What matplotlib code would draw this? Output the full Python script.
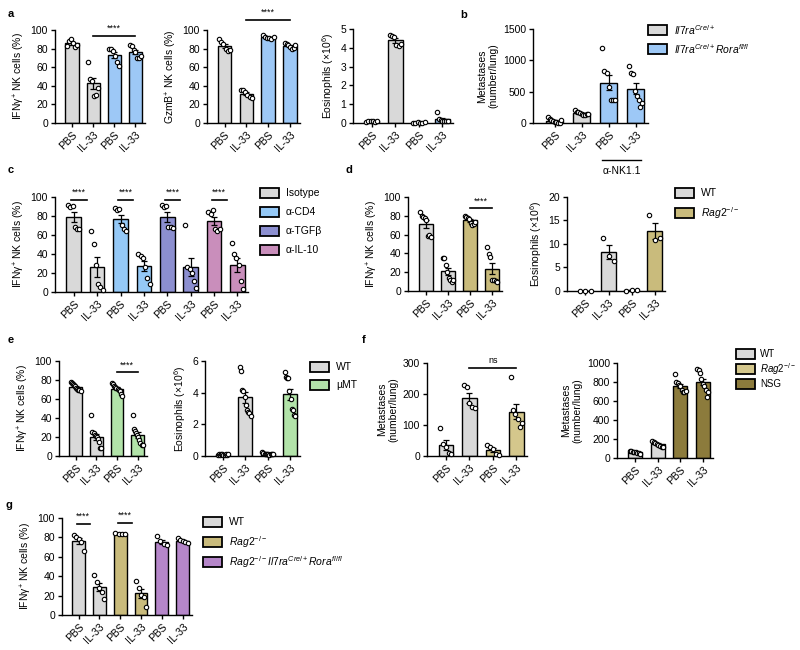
import numpy as np
import matplotlib
matplotlib.use('Agg')
import matplotlib.pyplot as plt
from matplotlib.patches import Rectangle

plt.rcParams['font.family'] = ['Liberation Sans', 'DejaVu Sans']
plt.rcParams['mathtext.fontset'] = 'custom'
plt.rcParams['mathtext.rm'] = 'Liberation Sans'
plt.rcParams['mathtext.it'] = 'Liberation Sans:italic'
plt.rcParams['font.size'] = 7.5

# Data (individual mice)
xlab4 = ['PBS', 'IL-33', 'PBS', 'IL-33']
xlab6 = ['PBS', 'IL-33', 'PBS', 'IL-33', 'PBS', 'IL-33']
xlab8 = ['PBS', 'IL-33'] * 4

a1_pts = [[83, 88, 90, 86, 82, 84], [66, 47, 45, 29, 30, 38],
          [80, 80, 77, 72, 66, 61], [84, 83, 79, 76, 70, 70, 72]]
a2_pts = [[90, 87, 85, 80, 77, 78], [36, 35, 33, 30, 28, 27],
          [95, 93, 91, 91, 90, 92], [86, 85, 84, 82, 80, 81, 84]]
a3_pts = [[0.05, 0.08, 0.1, 0.12, 0.06, 0.09], [4.7, 4.65, 4.55, 4.15, 4.1, 4.2],
          [0.01, 0.02, 0.03, 0.02, 0.01, 0.03], [0.6, 0.22, 0.16, 0.1, 0.1, 0.12, 0.08]]
b_pts = [[100, 70, 50, 30, 20, 10, 5, 0, 40], [205, 180, 170, 160, 140, 130, 120, 150, 140],
         [1190, 835, 790, 575, 365, 370, 360], [910, 790, 780, 510, 430, 370, 250, 320]]
c_pts = [[92, 89, 90, 68, 66, 66], [64, 50, 28, 8, 5, 2],
         [88, 86, 87, 70, 66, 64], [40, 38, 36, 26, 15, 8],
         [92, 89, 91, 68, 68, 67], [70, 26, 24, 20, 12, 4],
         [84, 82, 86, 66, 64, 66], [52, 40, 36, 28, 12, 3]]
d1_pts = [[84, 80, 79, 78, 75, 58, 60, 57], [35, 35, 28, 20, 14, 12, 10, 12],
          [80, 79, 78, 77, 72, 70, 71, 73], [47, 39, 36, 12, 12, 11, 10]]
d2_pts = [[0.1, 0.1, 0.1], [11.2, 7.5, 6.3], [0.1, 0.3, 0.2], [16.2, 10.8, 11.2]]
e1_pts = [[78, 77, 76, 75, 74, 72, 71, 70, 70, 68], [43, 25, 24, 22, 21, 20, 18, 15, 8, 8],
          [77, 76, 74, 73, 72, 71, 70, 68, 65, 63], [43, 28, 26, 24, 22, 20, 17, 14, 12, 12]]
e2_pts = [[0.05, 0.1, 0.08, 0.12, 0.1, 0.06, 0.09, 0.11, 0.07, 0.1],
          [5.6, 5.4, 4.2, 4.1, 3.7, 3.2, 2.9, 2.8, 2.7, 2.5],
          [0.25, 0.2, 0.15, 0.12, 0.1, 0.1, 0.08, 0.12, 0.15, 0.1],
          [5.3, 5.0, 4.95, 4.9, 4.1, 3.6, 3.0, 2.9, 2.6, 2.5]]
f1_pts = [[90, 40, 30, 10, 5], [230, 222, 172, 158, 155],
          [35, 30, 22, 5, 3], [255, 150, 135, 120, 95, 105]]
f2_pts = [[75, 70, 65, 62, 58, 52, 55, 45], [180, 172, 160, 150, 140, 130, 120, 118],
          [880, 800, 790, 770, 760, 720, 700, 700, 710],
          [940, 930, 900, 830, 780, 760, 720, 640, 700]]
g_pts = [[82, 80, 78, 75, 66], [41, 34, 28, 24, 16], [85, 84, 84, 83],
         [35, 28, 21, 19, 8], [81, 76, 73, 72], [79, 77, 76, 75, 74]]

# colours
GRAY = '#d9d9d9'
BLUE = '#9dc8f6'
CD4 = '#95c9f7'
TGFB = '#8c8fd0'
IL10 = '#c98ebb'
RAG = '#c9bb7c'
RAG_L = '#d4c78c'
NSG = '#8c7b3c'
MUMT = '#b2e3a9'
PURP = '#b586c9'

W, H = 800, 650
fig = plt.figure(figsize=(8, 6.5), dpi=100)


def px_axes(l, t, r, b):
    return fig.add_axes([l / W, 1 - b / H, (r - l) / W, (b - t) / H])


def bar_panel(ax, pts, colors, ylim, yticks, ylabel, xlabels):
    n = len(pts)
    x = np.arange(n)
    means = [np.mean(p) for p in pts]
    sems = [np.std(p, ddof=1) / np.sqrt(len(p)) for p in pts]
    ax.bar(x, means, width=0.62, color=colors, edgecolor='black', linewidth=1.0, zorder=1)
    ax.errorbar(x, means, yerr=sems, fmt='none', ecolor='black', elinewidth=0.9,
                capsize=2.5, capthick=0.9, zorder=2)
    for i, p in enumerate(pts):
        offs = np.linspace(-0.24, 0.24, len(p))
        ax.scatter(i + offs, p, s=10, facecolor='white', edgecolor='black',
                   linewidth=0.8, zorder=3, clip_on=False)
    ax.set_xlim(-0.8, n - 1 + 0.45)
    ax.set_ylim(*ylim)
    ax.set_yticks(yticks)
    ax.set_xticks(x)
    ax.set_xticklabels(xlabels, rotation=45, ha='right', rotation_mode='anchor')
    ax.set_ylabel(ylabel, labelpad=3)
    for s in ['top', 'right']:
        ax.spines[s].set_visible(False)
    for s in ['left', 'bottom']:
        ax.spines[s].set_linewidth(1.0)
    ax.tick_params(length=3, width=1.0, pad=2, labelsize=7.5)


def sig(ax, x1, x2, y, text, dy):
    ax.plot([x1, x2], [y, y], color='black', lw=1.2, clip_on=False)
    ax.text((x1 + x2) / 2, y + dy, text, ha='center', va='bottom', fontsize=6.5)


def legend_px(x, y0, step, colors, labels, gap=26, fs=7.5):
    for i, (c, lab) in enumerate(zip(colors, labels)):
        yc = y0 + i * step
        fig.add_artist(Rectangle((x / W, 1 - (yc + 5) / H), 19 / W, 10 / H,
                                 facecolor=c, edgecolor='black', linewidth=1.3,
                                 transform=fig.transFigure))
        fig.text((x + gap) / W, 1 - yc / H, lab, va='center', ha='left', fontsize=fs)


def letter(x, y, s):
    fig.text(x / W, 1 - y / H, s, fontweight='bold', fontsize=8, va='center')


ifn = 'IFNγ$^{+}$ NK cells (%)'
eos = 'Eosinophils (×10$^{6}$)'
met = 'Metastases\n(number/lung)'
il7 = r'$\mathit{Il7ra}^{\mathit{Cre/+}}$'
il7r = r'$\mathit{Il7ra}^{\mathit{Cre/+}}\mathit{Rora}^{\mathit{fl/fl}}$'
rag = r'$\mathit{Rag2}^{-/-}$'
ragil = r'$\mathit{Rag2}^{-/-}\mathit{Il7ra}^{\mathit{Cre/+}}\mathit{Rora}^{\mathit{fl/fl}}$'

# a
ax = px_axes(55, 30, 145, 123)
bar_panel(ax, a1_pts, [GRAY, GRAY, BLUE, BLUE], (0, 100), range(0, 101, 20), ifn, xlab4)
sig(ax, 1, 3, 94, '****', 3)
ax = px_axes(207, 30, 300, 123)
bar_panel(ax, a2_pts, [GRAY, GRAY, BLUE, BLUE], (0, 100), range(0, 101, 20),
          'GzmB$^{+}$ NK cells (%)', xlab4)
sig(ax, 1, 3, 111, '****', 3)
ax = px_axes(353, 29, 453, 123)
bar_panel(ax, a3_pts, [GRAY, GRAY, BLUE, BLUE], (0, 5), range(0, 6), eos, xlab4)
letter(8, 14, 'a')

# b
ax = px_axes(533, 29, 648, 123)
bar_panel(ax, b_pts, [GRAY, GRAY, BLUE, BLUE], (0, 1500), [0, 500, 1000, 1500], met, xlab4)
tr = ax.get_xaxis_transform()
ax.plot([1.75, 3.2], [-0.39, -0.39], color='black', lw=1.0, transform=tr, clip_on=False)
ax.text(2.5, -0.51, 'α-NK1.1', transform=tr, ha='center', va='center', fontsize=7.5)
legend_px(648, 30, 19, [GRAY, BLUE], [il7, il7r])
letter(460, 15, 'b')

# c
ax = px_axes(55, 197, 248, 292)
bar_panel(ax, c_pts, [GRAY, GRAY, CD4, CD4, TGFB, TGFB, IL10, IL10], (0, 100),
          range(0, 101, 20), ifn, xlab8)
for k in range(4):
    sig(ax, 2 * k - 0.1, 2 * k + 0.55, 97, '****', 3)
legend_px(260, 193, 19, [GRAY, CD4, TGFB, IL10], ['Isotype', 'α-CD4', 'α-TGFβ', 'α-IL-10'])
letter(8, 170, 'c')

# d
ax = px_axes(408, 197, 502, 291)
bar_panel(ax, d1_pts, [GRAY, GRAY, RAG, RAG], (0, 100), range(0, 101, 20), ifn, xlab4)
sig(ax, 2, 3, 88, '****', 3)
ax = px_axes(567, 197, 665, 291)
bar_panel(ax, d2_pts, [GRAY, GRAY, RAG, RAG], (0, 20), range(0, 21, 5), eos, xlab4)
legend_px(675, 193, 20, [GRAY, RAG], ['WT', rag])
letter(345, 170, 'd')

# e
ax = px_axes(59, 361, 147, 456)
bar_panel(ax, e1_pts, [GRAY, GRAY, MUMT, MUMT], (0, 100), range(0, 101, 20), ifn, xlab4)
sig(ax, 2, 3, 88, '****', 3)
ax = px_axes(205, 361, 300, 456)
bar_panel(ax, e2_pts, [GRAY, GRAY, MUMT, MUMT], (0, 6), range(0, 7, 2), eos, xlab4)
legend_px(310, 367, 18, [GRAY, MUMT], ['WT', 'µMT'])
letter(8, 340, 'e')

# f
ax = px_axes(427, 363, 527, 456)
bar_panel(ax, f1_pts, [GRAY, GRAY, RAG_L, RAG_L], (0, 300), range(0, 301, 100), met, xlab4)
sig(ax, 1, 3, 284, 'ns', 10)
ax = px_axes(617, 363, 713, 458)
bar_panel(ax, f2_pts, [GRAY, GRAY, NSG, NSG], (0, 1000), range(0, 1001, 200), met, xlab4)
legend_px(736, 354, 15, [GRAY, RAG_L, NSG], ['WT', rag, 'NSG'], gap=24, fs=7)
letter(362, 340, 'f')

# g
ax = px_axes(62, 518, 192, 615)
bar_panel(ax, g_pts, [GRAY, GRAY, RAG, RAG, PURP, PURP], (0, 100), range(0, 101, 20), ifn, xlab6)
sig(ax, -0.1, 0.55, 94, '****', 3)
sig(ax, 1.9, 2.55, 95, '****', 3)
legend_px(203, 522, 20, [GRAY, RAG, PURP], ['WT', rag, ragil])
letter(5, 505, 'g')

fig.savefig('out.png', dpi=100)
